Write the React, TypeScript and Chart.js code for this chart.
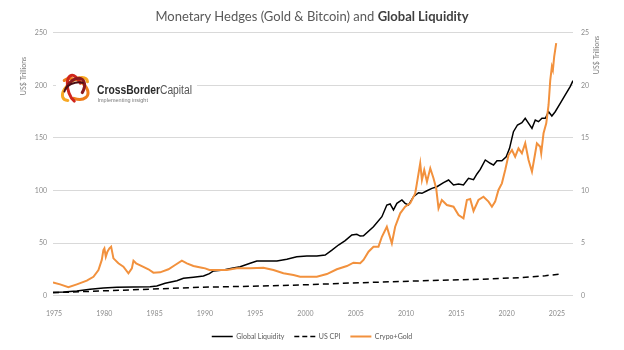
import React, { useEffect, useRef } from 'react';
import { Chart, registerables } from 'chart.js';

Chart.register(...registerables);

// ---------- text ----------
const TITLE_REGULAR = 'Monetary Hedges (Gold & Bitcoin) and ';
const TITLE_BOLD = 'Global Liquidity';
const AXIS_TITLE = 'US$ Trillions';
const LOGO_BOLD = 'CrossBorder';
const LOGO_LIGHT = 'Capital';
const LOGO_TAG = 'Implementing insight';

// ---------- axes ----------
const X_TICKS = [1975, 1980, 1985, 1990, 1995, 2000, 2005, 2010, 2015, 2020, 2025];
const LEFT_MAX = 250;
const LEFT_STEP = 50;
const RIGHT_MAX = 25;
const RIGHT_STEP = 5;

// ---------- series (x in axis years) ----------
const liquidityX = [
  1974.9, 1975.93, 1977.27, 1978.59, 1979.91, 1981.25, 1982.9, 1984.56, 1985.22, 1986.05,
  1987.21, 1987.87, 1988.86, 1989.86, 1990.45, 1990.85, 1991.85, 1992.68, 1993.51, 1994.5,
  1995.17, 1996.16, 1997.16, 1998.15, 1999.14, 2000.14, 2001.13, 2001.96, 2002.63, 2003.28,
  2003.95, 2004.61, 2005.11, 2005.44, 2005.77, 2006.76, 2007.6, 2008.09, 2008.42, 2008.75,
  2009.09, 2009.59, 2009.91, 2010.24, 2010.74, 2011.24, 2011.58, 2012.08, 2012.57, 2013.07,
  2013.73, 2014.23, 2014.72, 2015.22, 2015.71, 2016.21, 2016.71, 2017.05, 2017.38, 2017.88,
  2018.37, 2018.7, 2019.04, 2019.53, 2019.96, 2020.29, 2020.68, 2021.08, 2021.52, 2021.85,
  2022.07, 2022.52, 2022.85, 2023.17, 2023.51, 2023.85, 2024.17, 2024.5, 2024.83, 2025.33,
  2025.83, 2026.32, 2026.6,
];
const liquidityY = [
  0.32, 0.35, 0.45, 0.61, 0.73, 0.8, 0.83, 0.86, 0.92, 1.18,
  1.43, 1.65, 1.75, 1.87, 2.1, 2.35, 2.44, 2.6, 2.76, 3.08,
  3.3, 3.3, 3.3, 3.46, 3.71, 3.77, 3.77, 3.87, 4.34, 4.82,
  5.23, 5.77, 5.84, 5.67, 5.7, 6.56, 7.51, 8.62, 8.72, 8.15,
  8.78, 9.1, 8.78, 8.62, 9.41, 9.79, 9.73, 9.98, 10.2, 10.36,
  10.74, 11.0, 10.52, 10.62, 10.52, 11.16, 11.03, 11.57, 12.0, 12.9,
  12.59, 12.42, 12.83, 12.83, 13.21, 14.01, 15.59, 16.23, 16.44, 16.86,
  16.54, 15.91, 16.7, 16.54, 16.86, 16.86, 17.49, 17.08, 17.49, 18.29,
  19.08, 19.87, 20.44,
];

const cpiX = [1974.9, 1979.58, 1984.56, 1989.53, 1994.5, 1999.47, 2004.44, 2012.7, 2017.38, 2021.35, 2023.85, 2025.33];
const cpiY = [0.28, 0.45, 0.62, 0.8, 0.9, 1.02, 1.2, 1.45, 1.56, 1.72, 1.9, 2.05];

const hedgesX = [
  1974.9, 1975.61, 1976.43, 1977.27, 1978.26, 1978.92, 1979.42, 1979.75, 1979.91, 1980.01,
  1980.15, 1980.31, 1980.51, 1980.68, 1980.91, 1981.4, 1981.9, 1982.4, 1982.74, 1982.9,
  1983.16, 1983.73, 1984.39, 1984.88, 1985.55, 1986.38, 1987.04, 1987.71, 1988.21, 1988.86,
  1989.7, 1990.03, 1990.45, 1991.19, 1992.18, 1993.18, 1994.5, 1995.82, 1996.82, 1997.81,
  1998.81, 1999.47, 2001.13, 2002.13, 2003.12, 2004.12, 2004.77, 2005.44, 2005.77, 2006.27,
  2006.76, 2007.26, 2007.6, 2008.09, 2008.59, 2008.92, 2009.42, 2009.91, 2010.41, 2010.91,
  2011.08, 2011.41, 2011.58, 2011.81, 2012.08, 2012.41, 2012.73, 2013.0, 2013.23, 2013.56,
  2014.06, 2014.72, 2015.22, 2015.71, 2016.05, 2016.38, 2016.71, 2017.2, 2017.7, 2018.2,
  2018.54, 2018.86, 2019.19, 2019.53, 2019.86, 2020.19, 2020.53, 2020.85, 2021.18, 2021.52,
  2021.85, 2022.18, 2022.52, 2022.78, 2023.01, 2023.34, 2023.44, 2023.67, 2023.94, 2024.17,
  2024.34, 2024.5, 2024.6, 2024.73, 2024.93,
];
const hedgesY = [
  12.7, 10.8, 8.0, 10.8, 14.3, 18, 24.4, 34, 43.4, 45,
  37, 41.8, 45, 46.6, 35.5, 30.8, 27.6, 21.3, 26, 33.3,
  30.8, 28.2, 25.1, 21.9, 22.2, 25.1, 29.2, 33.3, 30.8, 28.2,
  26.6, 26, 24.5, 24.4, 24.4, 26, 26, 26.6, 24.4, 21.3,
  19.7, 18, 18, 20.6, 25.1, 28.2, 31.4, 30.8, 34, 41.8,
  46.6, 46.6, 56, 65.6, 49.8, 65.6, 78.3, 84.6, 87.8, 97.3,
  106.8, 125.9, 110, 119.5, 108.4, 121.1, 111.6, 102, 83, 91,
  86.2, 84.6, 76.7, 73.6, 91, 92, 80.5, 91, 94.1, 89.4,
  84.6, 89.4, 100.5, 106.8, 119.5, 133.7, 138.5, 132.1, 140.1, 135.4,
  144.9, 129, 117.9, 132.1, 144.9, 141.6, 135.4, 154.4, 163.9, 181.3,
  205, 217.7, 214.5, 227.2, 240,
];

const SERIES_LABELS = ['Global Liquidity', 'US CPI', 'Crypo+Gold'];

const zip = (xs: number[], ys: number[]) => xs.map((x, i) => ({ x, y: ys[i] }));

const FONT = 'Lato, "Open Sans", sans-serif';

const decorPlugin = {
  id: 'decor',
  beforeDatasetsDraw(chart: any) {
    const ctx = chart.ctx as CanvasRenderingContext2D;
    ctx.save();
    // logo background
    ctx.fillStyle = '#ffffff';
    ctx.fillRect(56, 68, 141, 38);
    // swirl
    const cx = 75;
    const cy = 89;
    const rings = [
      { rx: 15, ry: 8, rot: -0.7, col: '#F7A823', a0: 2.6, a1: 6.6, w: 3 },
      { rx: 14, ry: 9, rot: 0.5, col: '#EE7D1A', a0: 3.4, a1: 7.6, w: 3 },
      { rx: 14, ry: 7, rot: 1.3, col: '#D0261C', a0: 0.6, a1: 4.4, w: 3 },
      { rx: 12, ry: 8, rot: 2.2, col: '#8B1A1E', a0: 1.2, a1: 4.6, w: 3 },
      { rx: 11, ry: 6, rot: 2.8, col: '#4A0E14', a0: 0.2, a1: 2.6, w: 2 },
    ];
    rings.forEach((r) => {
      ctx.beginPath();
      ctx.ellipse(cx, cy, r.rx, r.ry, r.rot, r.a0, r.a1);
      ctx.strokeStyle = r.col;
      ctx.lineWidth = r.w;
      ctx.lineCap = 'round';
      ctx.stroke();
    });
    // logo text
    ctx.textBaseline = 'alphabetic';
    ctx.textAlign = 'left';
    const targetW = 95;
    ctx.font = `bold 12px Arial, "Liberation Sans", sans-serif`;
    const wb = ctx.measureText(LOGO_BOLD).width;
    ctx.font = `12px Arial, "Liberation Sans", sans-serif`;
    const wl = ctx.measureText(LOGO_LIGHT).width;
    const sx = targetW / (wb + wl);
    ctx.save();
    ctx.translate(97, 93.5);
    ctx.scale(sx, 1);
    ctx.font = `bold 12px Arial, "Liberation Sans", sans-serif`;
    ctx.fillStyle = '#2b2b2b';
    ctx.fillText(LOGO_BOLD, 0, 0);
    ctx.font = `12px Arial, "Liberation Sans", sans-serif`;
    ctx.fillStyle = '#555555';
    ctx.fillText(LOGO_LIGHT, wb, 0);
    ctx.restore();
    ctx.font = `5.5px Arial, "Liberation Sans", sans-serif`;
    ctx.fillStyle = '#7a7a7a';
    ctx.fillText(LOGO_TAG, 97.5, 101.5);
    ctx.restore();
  },
  afterDraw(chart: any) {
    const ctx = chart.ctx as CanvasRenderingContext2D;
    const drawTitle = (x: number, y: number) => {
      ctx.save();
      ctx.font = `7px ${FONT}`;
      ctx.fillStyle = '#7f7f7f';
      ctx.textAlign = 'center';
      ctx.textBaseline = 'middle';
      ctx.translate(x, y);
      ctx.rotate(-Math.PI / 2);
      ctx.fillText(AXIS_TITLE, 0, 0);
      ctx.restore();
    };
    drawTitle(24, 76);
    drawTitle(597, 55);
  },
};

export default function App() {
  const canvasRef = useRef<HTMLCanvasElement | null>(null);

  useEffect(() => {
    if (!canvasRef.current) return;
    const defaultLabels = Chart.defaults.plugins.legend.labels.generateLabels;
    const chart = new Chart(canvasRef.current, {
      type: 'line',
      data: {
        datasets: [
          {
            label: SERIES_LABELS[0],
            data: zip(liquidityX, liquidityY),
            yAxisID: 'y2',
            borderColor: '#000000',
            backgroundColor: '#000000',
            borderWidth: 1.5,
            pointRadius: 0,
            tension: 0,
            order: 2,
          },
          {
            label: SERIES_LABELS[1],
            data: zip(cpiX, cpiY),
            yAxisID: 'y2',
            borderColor: '#000000',
            backgroundColor: '#000000',
            borderWidth: 1.5,
            borderDash: [6, 4],
            pointRadius: 0,
            tension: 0,
            order: 3,
          },
          {
            label: SERIES_LABELS[2],
            data: zip(hedgesX, hedgesY),
            yAxisID: 'y',
            borderColor: '#F2913D',
            backgroundColor: '#F2913D',
            borderWidth: 2,
            pointRadius: 0,
            tension: 0,
            order: 1,
          },
        ],
      },
      options: {
        animation: false,
        responsive: false,
        events: [],
        layout: { padding: { top: 32.7, bottom: 0, left: 0, right: 0 } },
        scales: {
          x: {
            type: 'linear',
            min: 1974.9,
            max: 2026.6,
            grid: { display: false },
            border: { display: false },
            afterBuildTicks: (scale: any) => {
              scale.ticks = X_TICKS.map((v) => ({ value: v }));
            },
            afterFit: (scale: any) => {
              scale.height = 27.3;
            },
            ticks: {
              autoSkip: false,
              maxRotation: 0,
              padding: 6,
              color: '#8c8c8c',
              font: { family: FONT, size: 7 },
              callback: (v: any) => String(v),
            },
          },
          y: {
            position: 'left',
            min: 0,
            max: LEFT_MAX,
            grid: { color: '#d9d9d9', lineWidth: 1, drawTicks: false },
            border: { display: false },
            afterFit: (scale: any) => {
              scale.width = 53;
            },
            ticks: {
              stepSize: LEFT_STEP,
              padding: 6,
              color: '#8c8c8c',
              font: { family: FONT, size: 7 },
            },
          },
          y2: {
            position: 'right',
            min: 0,
            max: RIGHT_MAX,
            grid: { display: false, drawTicks: false },
            border: { display: false },
            afterFit: (scale: any) => {
              scale.width = 51;
            },
            ticks: {
              stepSize: RIGHT_STEP,
              padding: 8,
              color: '#8c8c8c',
              font: { family: FONT, size: 7 },
            },
          },
        },
        plugins: {
          title: { display: false },
          tooltip: { enabled: false },
          legend: {
            display: true,
            position: 'bottom',
            labels: {
              usePointStyle: true,
              pointStyle: 'line',
              pointStyleWidth: 21,
              boxHeight: 7,
              padding: 10,
              color: '#595959',
              font: { family: FONT, size: 7 },
              sort: (a: any, b: any) => a.datasetIndex - b.datasetIndex,
              generateLabels: (ch: any) => {
                const items = defaultLabels(ch);
                return items.map((it: any) => {
                  const ds = ch.data.datasets[it.datasetIndex];
                  return {
                    ...it,
                    pointStyle: 'line',
                    lineWidth: ds.borderWidth,
                    lineDash: ds.borderDash ? [5, 3] : [],
                    strokeStyle: ds.borderColor,
                    fillStyle: ds.borderColor,
                  };
                });
              },
            },
          },
        },
      },
      plugins: [decorPlugin],
    } as any);
    return () => chart.destroy();
  }, []);

  return (
    <div style={{ position: 'fixed', left: 0, top: 0, width: 624, height: 350, background: '#fff' }}>
      <div
        style={{
          position: 'absolute',
          left: 0,
          top: 7.7,
          width: 624,
          textAlign: 'center',
          fontFamily: FONT,
          fontSize: 13,
          lineHeight: '16px',
          color: '#595959',
          whiteSpace: 'nowrap',
        }}
      >
        {TITLE_REGULAR}
        <span style={{ fontWeight: 'bold', color: '#404040' }}>{TITLE_BOLD}</span>
      </div>
      <canvas ref={canvasRef} width={624} height={350} style={{ display: 'block', width: 624, height: 350 }} />
    </div>
  );
}
